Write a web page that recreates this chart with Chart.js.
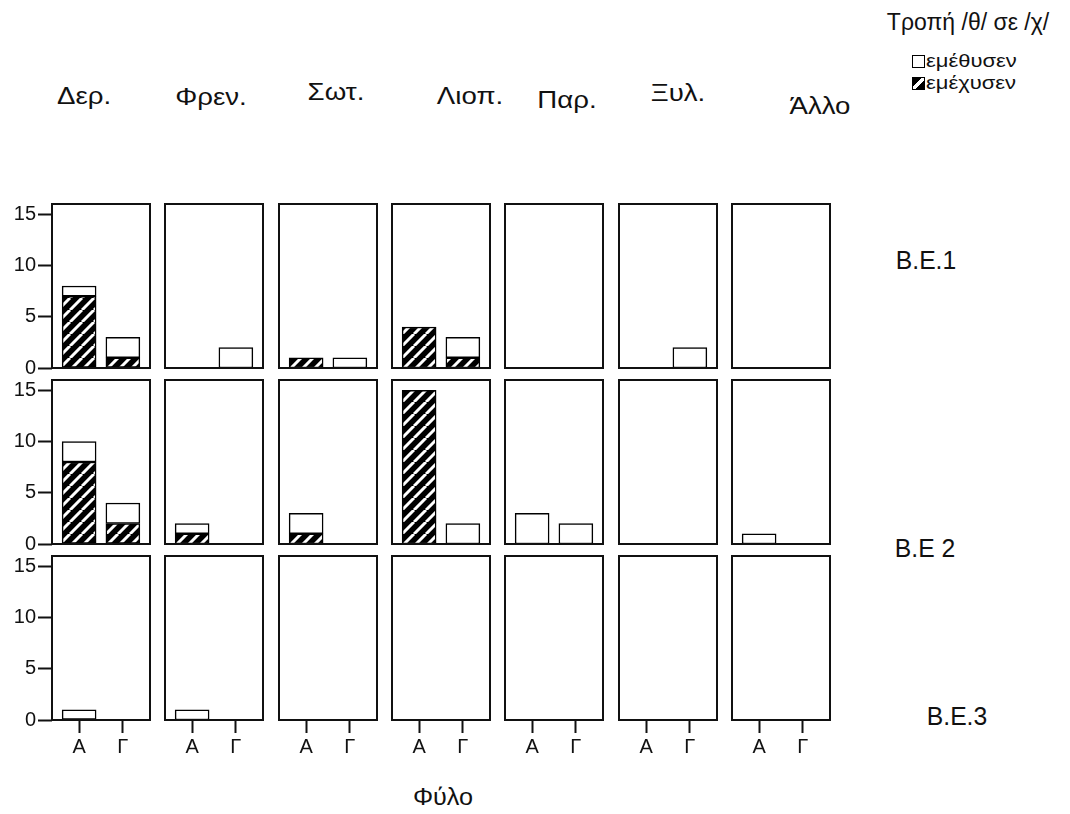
<!DOCTYPE html>
<html>
<head>
<meta charset="utf-8">
<script src="https://cdn.jsdelivr.net/npm/chart.js@4/dist/chart.umd.min.js"></script>
<style>
  body { margin: 0; background: #fff; }
  #wrap { position: relative; width: 1070px; height: 814px; overflow: hidden; font-family: 'Liberation Sans', Arial, sans-serif; color: #111; }
  #wrap canvas { position: absolute; }
  .lbl { position: absolute; white-space: nowrap; line-height: 1; transform-origin: center; }
  .sw { position: absolute; width: 11px; height: 11px; border: 1px solid #000; box-sizing: content-box; }
</style>
</head>
<body>
<div id="wrap"></div>
<script>
// Φύλο categories on each small panel
const sexes = ['A', 'Γ'];
// panel columns and rows
const columns = ['Δερ.', 'Φρεν.', 'Σωτ.', 'Λιοπ.', 'Παρ.', 'Ξυλ.', 'Άλλο'];
const rowNames = ['B.E.1', 'B.E 2', 'B.E.3'];
const yTicks = [0, 5, 10, 15];

// εμέχυσεν counts per column, [A, Γ]
const emechysenBE1 = [[7, 1], [0, 0], [1, 0], [4, 1], [0, 0], [0, 0], [0, 0]];
const emechysenBE2 = [[8, 2], [1, 0], [1, 0], [15, 0], [0, 0], [0, 0], [0, 0]];
const emechysenBE3 = [[0, 0], [0, 0], [0, 0], [0, 0], [0, 0], [0, 0], [0, 0]];
// εμέθυσεν counts per column, [A, Γ]
const emethysenBE1 = [[1, 2], [0, 2], [0, 1], [0, 2], [0, 0], [0, 2], [0, 0]];
const emethysenBE2 = [[2, 2], [1, 0], [2, 0], [0, 2], [3, 2], [0, 0], [1, 0]];
const emethysenBE3 = [[1, 0], [1, 0], [0, 0], [0, 0], [0, 0], [0, 0], [0, 0]];

const hatchedRows = [emechysenBE1, emechysenBE2, emechysenBE3];
const whiteRows = [emethysenBE1, emethysenBE2, emethysenBE3];

// panel grid geometry
const PW = 98, PH = 164, PAD = 2, YW = 52, XH = 44, LBL = 12;
const colLeft = c => Math.round(52 + c * 113.3);
const rowTop = [204, 380, 556];
const tickFont = { family: "'Liberation Sans', Arial, sans-serif", size: 20 };

const wrap = document.getElementById('wrap');

function hatchFor(ctx) {
    const t = document.createElement('canvas');
    t.width = t.height = 12;
    const g = t.getContext('2d');
    g.fillStyle = '#000';
    g.fillRect(0, 0, 12, 12);
    g.strokeStyle = '#fff';
    g.lineWidth = 3;
    g.beginPath();
    for (const o of [-12, 0, 12]) {
        g.moveTo(o, 12);
        g.lineTo(o + 12, 0);
    }
    g.stroke();
    return ctx.createPattern(t, 'repeat');
}

// black frame round every panel
const frame = {
    id: 'frame',
    afterDraw(chart) {
        const a = chart.chartArea, ctx = chart.ctx;
        ctx.save();
        ctx.strokeStyle = '#111';
        ctx.lineWidth = 2;
        ctx.strokeRect(a.left, a.top, a.right - a.left, a.bottom - a.top);
        ctx.restore();
    }
};

rowNames.forEach((rowName, r) => {
    columns.forEach((col, c) => {
        const showY = c === 0, showX = r === 2;
        // room under the "0" label when there is no x axis below it
        const extraBottom = showY && !showX ? LBL : 0;
        const cv = document.createElement('canvas');
        cv.width = PW + 2 * PAD + (showY ? YW : 0);
        cv.height = PH + 2 * PAD + (showX ? XH : 0) + extraBottom;
        cv.style.left = (colLeft(c) - PAD - (showY ? YW : 0)) + 'px';
        cv.style.top = (rowTop[r] - PAD) + 'px';
        wrap.appendChild(cv);
        const ctx = cv.getContext('2d');

        new Chart(ctx, {
            type: 'bar',
            data: {
                labels: sexes.map((s, i) => i),
                datasets: [{
                    label: 'εμέχυσεν',
                    data: hatchedRows[r][c].map(v => v || null),
                    backgroundColor: hatchFor(ctx),
                    borderColor: '#000',
                    borderWidth: 1.5,
                    borderSkipped: false,
                    barThickness: 34
                }, {
                    label: 'εμέθυσεν',
                    data: whiteRows[r][c].map(v => v || null),
                    backgroundColor: '#fff',
                    borderColor: '#000',
                    borderWidth: 1.5,
                    borderSkipped: false,
                    barThickness: 34
                }]
            },
            options: {
                responsive: false,
                animation: false,
                layout: { padding: { left: PAD, right: PAD, top: PAD, bottom: PAD + extraBottom } },
                plugins: { legend: { display: false }, tooltip: { enabled: false } },
                scales: {
                    x: {
                        type: 'linear',
                        stacked: true,
                        offset: false,
                        min: -0.62,
                        max: 1.62,
                        display: showX,
                        afterBuildTicks: s => { s.ticks = sexes.map((_, i) => ({ value: i })); },
                        afterFit: s => {
                            s.height = showX ? XH : 0;
                            s.paddingLeft = s.paddingRight = 0;
                        },
                        ticks: { callback: v => sexes[v], font: tickFont, color: '#111', padding: 2, maxRotation: 0, autoSkip: false },
                        grid: { offset: false, drawOnChartArea: false, tickLength: 13, tickColor: '#111', tickWidth: 2 },
                        border: { display: false }
                    },
                    y: {
                        stacked: true,
                        min: 0,
                        max: 16,
                        display: showY,
                        afterBuildTicks: s => { s.ticks = yTicks.map(v => ({ value: v })); },
                        afterFit: s => {
                            s.width = showY ? YW : 0;
                            s.paddingTop = s.paddingBottom = 0;
                        },
                        ticks: { font: tickFont, color: '#111', padding: 2 },
                        grid: { drawOnChartArea: false, tickLength: 14, tickColor: '#111', tickWidth: 2 },
                        border: { display: false }
                    }
                }
            },
            plugins: [frame]
        });
    });
});

// text round the grid: column heads, row names, axis title, legend
function label(text, x, y, size, sx) {
    const d = document.createElement('div');
    d.className = 'lbl';
    d.textContent = text;
    d.style.fontSize = size + 'px';
    d.style.left = x + 'px';
    d.style.top = y + 'px';
    d.style.transform = 'translate(-50%, -50%) scaleX(' + (sx || 1) + ')';
    wrap.appendChild(d);
    return d;
}

const headX = [84, 211, 336, 470, 567, 678, 820];
const headY = [96, 97, 92, 96, 100, 93, 106];
columns.forEach((name, i) => label(name, headX[i], headY[i], 24, 1.15));

label(rowNames[0], 926, 260, 26, 0.95);
label(rowNames[1], 925, 548, 26, 0.95);
label(rowNames[2], 957, 716, 26, 0.95);

label('Φύλο', 443, 797, 24, 1.05);
label('Τροπή /θ/ σε /χ/', 968, 22, 23, 1);

const legendSeries = ['εμέθυσεν', 'εμέχυσεν'];
legendSeries.forEach((name, i) => {
    const sw = document.createElement('div');
    sw.className = 'sw';
    sw.style.left = '912px';
    sw.style.top = (55 + i * 22) + 'px';
    sw.style.background = i === 0 ? '#fff'
        : 'linear-gradient(135deg, #000 0 38%, #fff 38% 62%, #000 62% 100%)';
    wrap.appendChild(sw);
    const t = label(name, 0, 0, 18, 1);
    t.style.left = '926px';
    t.style.top = (52 + i * 22) + 'px';
    t.style.transformOrigin = 'left center';
    t.style.transform = 'scaleX(1.22)';
});
</script>
</body>
</html>
